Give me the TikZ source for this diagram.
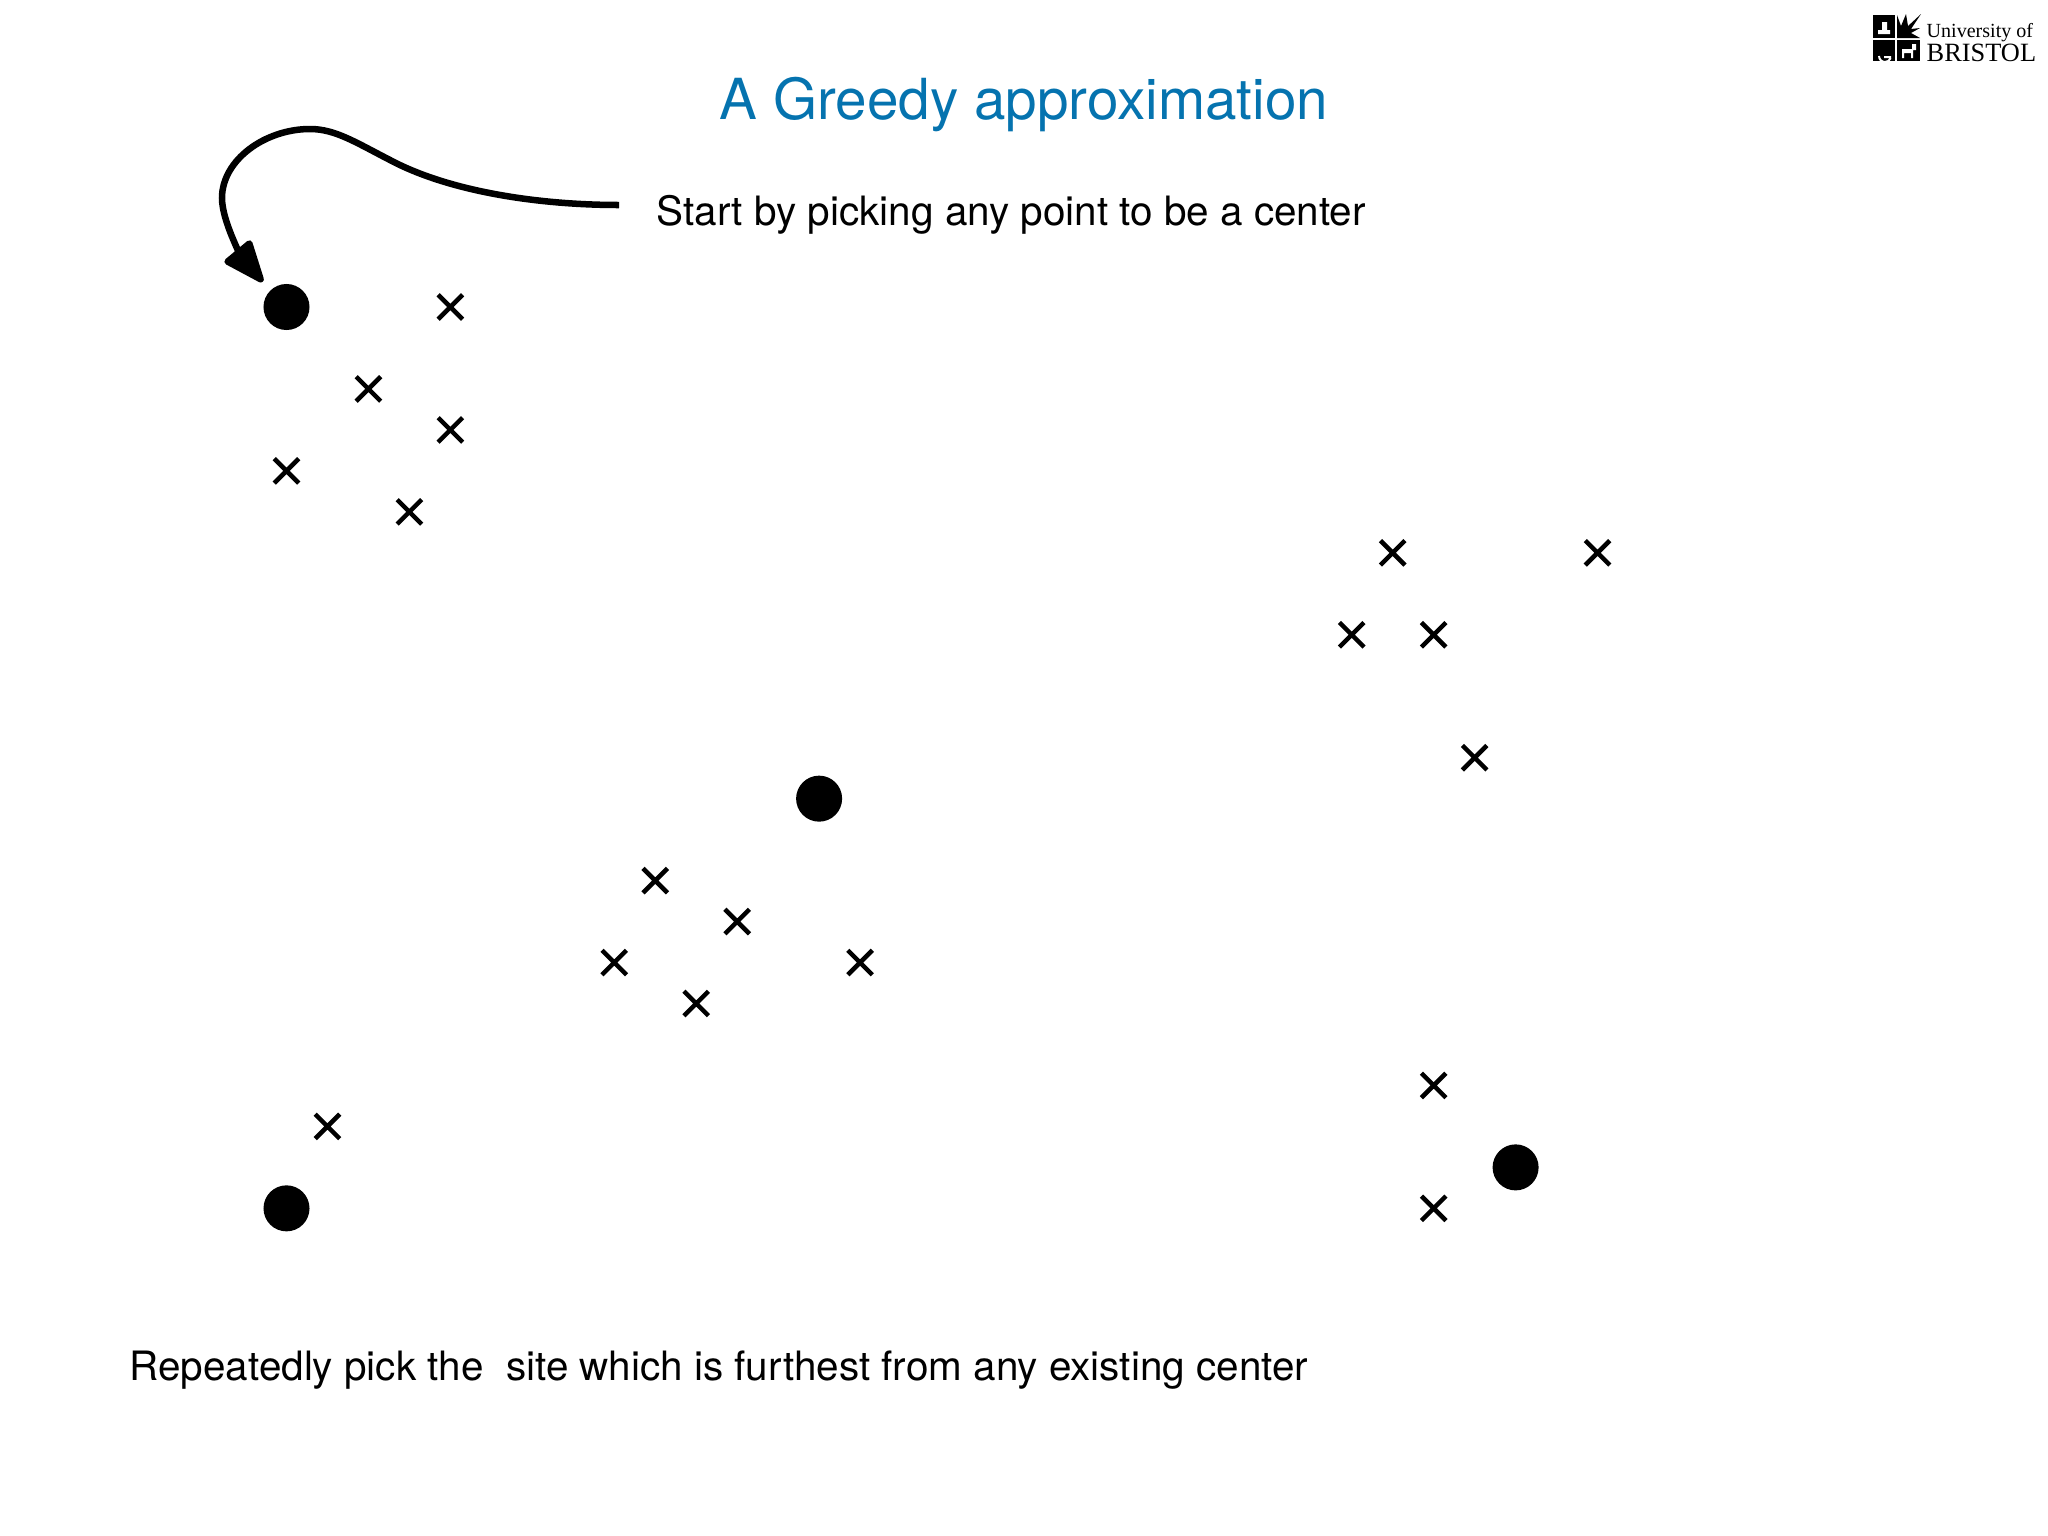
\documentclass[tikz,border=0pt]{standalone}
\usepackage{fontspec}
\setmainfont{TeX Gyre Heros}
\newfontfamily\crestFont{Liberation Serif}
\usetikzlibrary{arrows.meta,shapes.misc}
\definecolor{titleColor}{RGB}{5,115,175}
\newcommand{\gridUnit}{40.97}
\tikzstyle{slide} = [x = .01cm, y = -.01cm]
\tikzstyle{centerDot} = [circle, fill=black, minimum size=.46cm, inner sep=0pt]
\tikzstyle{siteCross} = [cross out, draw=black, line width=.045cm, minimum size=.2cm, inner sep=0pt]
\tikzstyle{pointerLine} = [line width=.065cm, shorten >=.11cm, -{Triangle[length=.47cm, width=.36cm, round]}]
\tikzstyle{bodyText} = [anchor=base west, inner sep=0pt, font=\fontsize{11.5}{14}\selectfont]
\tikzstyle{crestSquare} = [fill=black]
\begin{document}
\begin{tikzpicture}[slide]
  \useasboundingbox (0,0) rectangle (2048,1536);
  \node [anchor=base, inner sep=0pt, text=titleColor, font=\fontsize{16.1}{20}\selectfont] (slideTitle) at (1024,119) {A Greedy approximation};
  \node [bodyText] (startText) at (656,225) {Start by picking any point to be a center};
  \node [bodyText] (repeatText) at (129,1380) {Repeatedly pick the\ \ site which is furthest from any existing center};

  % sites
  \foreach \col/\row in {4/0,2/2,4/3,0/4,3/5,27/6,32/6,26/8,28/8,29/11,9/14,11/15,8/16,14/16,10/17,28/19,1/20,28/22} {
    \node [siteCross] (site\col-\row) at (286.5 + \gridUnit * \col, 307 + \gridUnit * \row) {};
  }
  \foreach \col/\row in {0/0,13/12,30/21,0/22} {
    \node [centerDot] (center\col-\row) at (286.5 + \gridUnit * \col, 307 + \gridUnit * \row) {};
  }

  \coordinate (pointerStart) at (619,205);
  \draw [pointerLine] (pointerStart) .. controls (540,205) and (450,192) .. (390,160)
    .. controls (355,142) and (335,129) .. (310,129)
    .. controls (265,129) and (222,160) .. (222,198)
    .. controls (222,222) and (243,258) .. (center0-0.135);

  % logo
  \fill [crestSquare] (1873,15) rectangle (1895,38);
  \fill [crestSquare] (1873,40) rectangle (1895,61);
  \fill [crestSquare] (1897,40) rectangle (1920,61);
  \fill [crestSquare] (1897,38) -- (1897,15) -- (1901,26) -- (1906,14) -- (1908,26) -- (1921,14) -- (1911,29) -- (1920,28) -- (1911,33) -- (1920,38) -- cycle;
  \fill [white] (1878,30) rectangle (1890,34) (1882,22) rectangle (1887,30);
  \draw [white, line width=.02cm] (1879,56) arc (180:20:6) (1884,57) -- (1891,57);
  \fill [white] (1902,49) rectangle (1913,53) (1912,44) rectangle (1916,50) (1902,53) rectangle (1904,58) (1911,53) rectangle (1913,58);
  \node [anchor=base west, inner sep=0pt, font=\crestFont\fontsize{5.7}{7}\selectfont] (crestTop) at (1926,37) {University of};
  \node [anchor=base west, inner sep=0pt, font=\crestFont\fontsize{7.5}{9}\selectfont] (crestBottom) at (1926,61) {BRISTOL};
\end{tikzpicture}
\end{document}
